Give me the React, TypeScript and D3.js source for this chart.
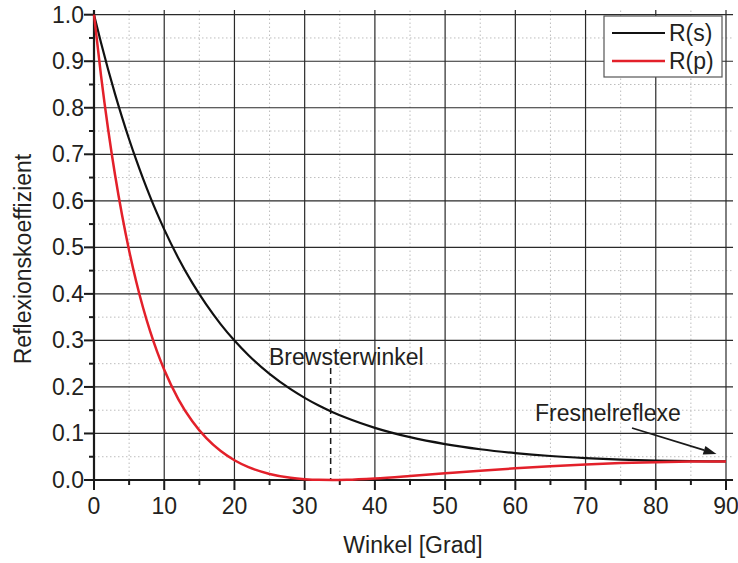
import React from "react";
import * as d3 from "d3";

const angles = [0, 1, 2, 3, 4, 5, 6, 7, 8, 9, 10, 12, 14, 16, 18, 20, 22, 25, 28, 30, 32, 34, 36, 40, 45, 50, 55, 60, 65, 70, 75, 80, 85, 90];
const rsValues = [1, 0.9395, 0.8826, 0.8293, 0.7793, 0.7323, 0.6884, 0.6472, 0.6086, 0.5724, 0.5386, 0.4773, 0.4236, 0.3767, 0.3356, 0.2996, 0.2681, 0.2281, 0.1952, 0.1766, 0.1602, 0.1458, 0.1331, 0.1121, 0.092, 0.0772, 0.0661, 0.0578, 0.0516, 0.0471, 0.0438, 0.0417, 0.0404, 0.04];
const rpValues = [1, 0.8689, 0.7548, 0.6555, 0.5689, 0.4933, 0.4273, 0.3696, 0.3193, 0.2753, 0.2368, 0.174, 0.1261, 0.0899, 0.0627, 0.0425, 0.0277, 0.013, 0.0047, 0.0018, 0.0003, 0.0, 0.0005, 0.0033, 0.0085, 0.0143, 0.02, 0.0252, 0.0297, 0.0335, 0.0363, 0.0384, 0.0396, 0.04];
const xTicks = [0, 10, 20, 30, 40, 50, 60, 70, 80, 90];
const yTicks = [0, 0.1, 0.2, 0.3, 0.4, 0.5, 0.6, 0.7, 0.8, 0.9, 1.0];
const xMinor = [5, 15, 25, 35, 45, 55, 65, 75, 85];
const yMinor = [0.05, 0.15, 0.25, 0.35, 0.45, 0.55, 0.65, 0.75, 0.85, 0.95];
const brewsterAngle = 33.7;
const seriesNames = ["R(s)", "R(p)"];

const W = 738;
const H = 563;
const FONT = "'Liberation Sans', Arial, Helvetica, sans-serif";
const FS = 23;

export default function App() {
  const x = d3.scaleLinear().domain([0, 90]).range([94, 726]);
  const y = d3.scaleLinear().domain([0, 1]).range([480, 14.7]);
  const gridRight = x(91);
  const gridTop = y(1.01);

  const line = d3
    .line<number>()
    .x((_, i) => x(angles[i]))
    .y((d) => y(d))
    .curve(d3.curveMonotoneX);

  const arrowStart = { x: 632, y: 428 };
  const arrowEnd = { x: 716.5, y: 454 };
  const dx = arrowEnd.x - arrowStart.x;
  const dy = arrowEnd.y - arrowStart.y;
  const len = Math.sqrt(dx * dx + dy * dy);
  const ux = dx / len;
  const uy = dy / len;
  const headL = 13;
  const headW = 4.5;
  const bx = arrowEnd.x - ux * headL;
  const by = arrowEnd.y - uy * headL;
  const head = `M${arrowEnd.x},${arrowEnd.y} L${bx - uy * headW},${by + ux * headW} L${bx + uy * headW},${by - ux * headW} Z`;

  return (
    <svg
      width={W}
      height={H}
      style={{ position: "absolute", left: 0, top: 0, background: "#fff" }}
      fontFamily={FONT}
    >
      <rect x={0} y={0} width={W} height={H} fill="#fff" />
      {/* minor grid */}
      {xMinor.map((v) => (
        <line key={"xm" + v} x1={x(v)} x2={x(v)} y1={y(0)} y2={gridTop} stroke="#bdbdbd" strokeWidth={1} strokeDasharray="1.5,2.5" />
      ))}
      {yMinor.map((v) => (
        <line key={"ym" + v} x1={x(0)} x2={gridRight} y1={y(v)} y2={y(v)} stroke="#bdbdbd" strokeWidth={1} strokeDasharray="1.5,2.5" />
      ))}
      {/* major grid */}
      {xTicks.slice(1).map((v) => (
        <line key={"xg" + v} x1={x(v)} x2={x(v)} y1={y(0)} y2={gridTop} stroke="#2a2a2a" strokeWidth={1.2} />
      ))}
      {yTicks.slice(1).map((v) => (
        <line key={"yg" + v} x1={x(0)} x2={gridRight} y1={y(v)} y2={y(v)} stroke="#2a2a2a" strokeWidth={1.2} />
      ))}
      {/* axes */}
      <line x1={x(0)} x2={x(0)} y1={gridTop} y2={y(0) + 1} stroke="#1a1a1a" strokeWidth={2.2} />
      <line x1={x(0) - 1} x2={gridRight} y1={y(0)} y2={y(0)} stroke="#1a1a1a" strokeWidth={2.2} />
      {yTicks.map((v) => (
        <line key={"yt" + v} x1={x(0) - 10} x2={x(0)} y1={y(v)} y2={y(v)} stroke="#1a1a1a" strokeWidth={2} />
      ))}
      {yMinor.map((v) => (
        <line key={"ytm" + v} x1={x(0) - 5} x2={x(0)} y1={y(v)} y2={y(v)} stroke="#1a1a1a" strokeWidth={2} />
      ))}
      {xTicks.map((v) => (
        <line key={"xt" + v} x1={x(v)} x2={x(v)} y1={y(0)} y2={y(0) + 10} stroke="#1a1a1a" strokeWidth={2} />
      ))}
      {xMinor.map((v) => (
        <line key={"xtm" + v} x1={x(v)} x2={x(v)} y1={y(0)} y2={y(0) + 5} stroke="#1a1a1a" strokeWidth={2} />
      ))}
      {/* tick labels */}
      {yTicks.map((v) => (
        <text key={"yl" + v} x={x(0) - 10} y={y(v) + 8} textAnchor="end" fontSize={FS} fill="#231f20">
          {d3.format(".1f")(v)}
        </text>
      ))}
      {xTicks.map((v) => (
        <text key={"xl" + v} x={x(v)} y={514} textAnchor="middle" fontSize={FS} fill="#231f20">
          {v}
        </text>
      ))}
      {/* axis titles */}
      <text x={(x(0) + x(90)) / 2 + 3} y={553} textAnchor="middle" fontSize={FS} fill="#231f20">
        Winkel [Grad]
      </text>
      <text transform={`translate(31, ${259}) rotate(-90)`} textAnchor="middle" fontSize={FS} fill="#231f20">
        Reflexionskoeffizient
      </text>
      {/* brewster line */}
      <line x1={x(brewsterAngle)} x2={x(brewsterAngle)} y1={368} y2={y(0)} stroke="#1a1a1a" strokeWidth={1.5} strokeDasharray="6,4" />
      <text x={269} y={365} fontSize={FS} fill="#231f20">Brewsterwinkel</text>
      {/* curves */}
      <path d={line(rsValues) || ""} fill="none" stroke="#111" strokeWidth={2.2} />
      <path d={line(rpValues) || ""} fill="none" stroke="#e3202a" strokeWidth={2.5} />
      {/* Fresnel annotation */}
      <text x={535} y={421} fontSize={FS} fill="#231f20">Fresnelreflexe</text>
      <line x1={arrowStart.x} y1={arrowStart.y} x2={bx} y2={by} stroke="#1a1a1a" strokeWidth={1.8} />
      <path d={head} fill="#1a1a1a" />
      {/* legend */}
      <rect x={604} y={16} width={118} height={61} fill="#fff" stroke="#555" strokeWidth={1.2} />
      <line x1={612} x2={665} y1={33} y2={33} stroke="#111" strokeWidth={2.2} />
      <line x1={612} x2={665} y1={61} y2={61} stroke="#e3202a" strokeWidth={2.5} />
      <text x={669} y={41} fontSize={FS} fill="#231f20">{seriesNames[0]}</text>
      <text x={669} y={69} fontSize={FS} fill="#231f20">{seriesNames[1]}</text>
    </svg>
  );
}
